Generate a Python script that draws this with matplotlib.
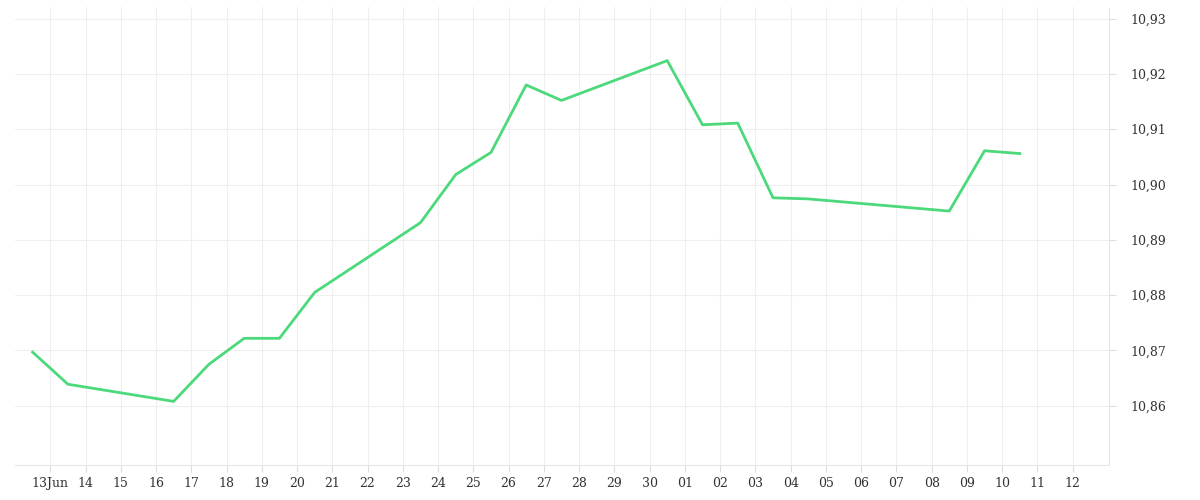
import matplotlib

matplotlib.use("Agg")
import matplotlib.pyplot as plt
import pandas as pd

dates = pd.to_datetime([
    "2024-06-12 12:00", "2024-06-13 12:00", "2024-06-16 12:00", "2024-06-17 12:00",
    "2024-06-18 12:00", "2024-06-19 12:00", "2024-06-20 12:00", "2024-06-23 12:00",
    "2024-06-24 12:00", "2024-06-25 12:00", "2024-06-26 12:00", "2024-06-27 12:00",
    "2024-06-30 12:00", "2024-07-01 12:00", "2024-07-02 12:00", "2024-07-03 12:00",
    "2024-07-04 12:00", "2024-07-08 12:00", "2024-07-09 12:00", "2024-07-10 12:00",
])
values = [10.8697, 10.8639, 10.8608, 10.8675, 10.8722, 10.8722, 10.8805, 10.8931,
          10.9018, 10.9058, 10.9180, 10.9152, 10.9224, 10.9108, 10.9111, 10.8976,
          10.8974, 10.8952, 10.9061, 10.9056]
y_ticks = [10.86, 10.87, 10.88, 10.89, 10.90, 10.91, 10.92, 10.93]

plt.rcParams["font.family"] = ["DejaVu Serif"]
fig = plt.figure(figsize=(12, 5), dpi=100)
ax = fig.add_axes([0.0125, 0.07, 0.912, 0.915])
ax.plot(dates, values, color="#4cd97b", lw=2)

ax.set_xlim(pd.Timestamp("2024-06-12"), pd.Timestamp("2024-07-13 01:00"))
ax.set_ylim(10.8493, 10.932)
ticks = pd.date_range("2024-06-13", "2024-07-12", freq="D")
ax.set_xticks(ticks)
ax.set_xticklabels(["13Jun" if t.day == 13 and t.month == 6 else f"{t.day:02d}" for t in ticks])
ax.set_yticks(y_ticks)
ax.set_yticklabels([f"{v:.2f}".replace(".", ",") for v in y_ticks])
ax.yaxis.tick_right()
ax.grid(True, color="#efefef", lw=0.8)
for s in ["top", "left"]:
    ax.spines[s].set_visible(False)
for s in ["bottom", "right"]:
    ax.spines[s].set_color("#e6e6e6")
ax.tick_params(axis="x", colors="#333333", labelsize=9, length=5, color="#dddddd")
ax.tick_params(axis="y", colors="#333333", labelsize=9, length=5, color="#dddddd", pad=10)
fig.savefig("out.png")
